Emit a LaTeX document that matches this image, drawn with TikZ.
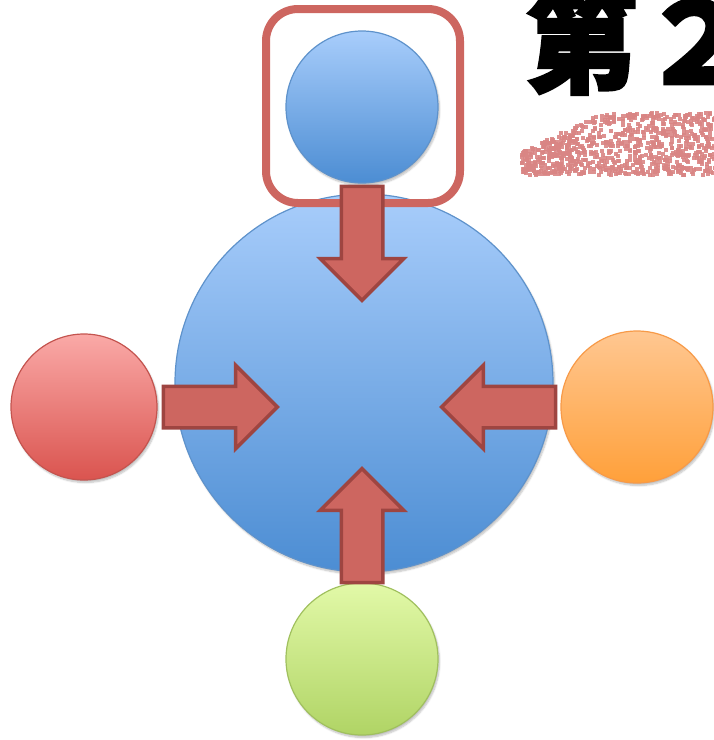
\documentclass[tikz,border=0pt]{standalone}
\usepackage{fontspec}
\usepackage{tikz}
\usetikzlibrary{positioning}
\usetikzlibrary{shapes.arrows}
\usetikzlibrary{shadows.blur}
\newfontfamily\cjk[FakeBold=2.5]{Noto Sans CJK SC}
\definecolor{bluetop}{HTML}{A8CDFB}
\definecolor{bluebot}{HTML}{4C8DD3}
\definecolor{blueline}{HTML}{5E92CB}
\definecolor{redtop}{HTML}{FAA9A7}
\definecolor{redbot}{HTML}{DA544F}
\definecolor{redline}{HTML}{C4544F}
\definecolor{orangetop}{HTML}{FFC791}
\definecolor{orangebot}{HTML}{FFA03A}
\definecolor{orangeline}{HTML}{F79A48}
\definecolor{greentop}{HTML}{E2F9A8}
\definecolor{greenbot}{HTML}{B0D465}
\definecolor{greenline}{HTML}{A0C05E}
\definecolor{arrowfill}{HTML}{CD6660}
\definecolor{arrowline}{HTML}{9E4541}
\definecolor{scribble}{HTML}{D98584}

\begin{document}
\begin{tikzpicture}[x=1pt,y=-1pt]
      \tikzstyle{every node}=[inner sep=0pt]
      \tikzstyle{ball}=[circle, line width=1.2pt,
        blur shadow={shadow xshift=1.5pt, shadow yshift=-2.5pt, shadow opacity=25, shadow blur steps=6}]
      \tikzstyle{blue ball}=[ball, draw=blueline, top color=bluetop, bottom color=bluebot]
      \tikzstyle{push}=[single arrow, draw=arrowline, fill=arrowfill, line width=3.5pt,
        inner xsep=0pt, inner ysep=19pt, minimum height=114pt,
        single arrow head extend=21pt, single arrow tip angle=90, anchor=tail]
      \useasboundingbox (0,0) rectangle (714,740);
      % circles
      \node[blue ball, minimum size=378pt] (center) at (364,383) {};
      \node[blue ball, minimum size=152pt] (top) at (362,107) {};
      \node[ball, draw=redline, top color=redtop, bottom color=redbot, minimum size=146pt] (left) at (84,407) {};
      \node[ball, draw=orangeline, top color=orangetop, bottom color=orangebot, minimum size=152pt] (right) at (637,407) {};
      \node[ball, draw=greenline, top color=greentop, bottom color=greenbot, minimum size=152pt] (bottom) at (362,659) {};
      % frame round the top circle
      \draw[arrowfill, line width=8pt, rounded corners=32pt] (266,9) rectangle (460,203);
      % arrows into the centre
      \node[push, rotate=-90] (a1) at ([yshift=-1pt]top.south) {};
      \node[push] (a2) at ([xshift=4pt]left.east) {};
      \node[push, rotate=180] (a3) at ([xshift=-3pt]right.west) {};
      \node[push, rotate=90] (a4) at ([yshift=-2pt]bottom.north) {};
      % heading
      \node[anchor=base west, font=\cjk\bfseries\fontsize{112}{112}\selectfont] (title) at (525,84) {第\hspace{4pt}２};
      % scribble under the heading
      \pgfmathsetseed{17}
      \foreach \i in {1,...,900}{
        \pgfmathsetmacro{\sx}{520+194*rnd}
        \pgfmathsetmacro{\st}{max(111,150-0.5*(\sx-520))}
        \pgfmathsetmacro{\sy}{\st+(173-\st)*rnd}
        \fill[scribble, opacity=0.9] (\sx,\sy) rectangle ++(4,4);
      }
    \end{tikzpicture}
\end{document}
